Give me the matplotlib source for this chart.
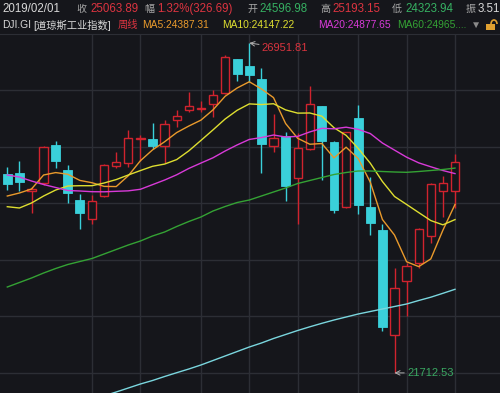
import numpy as np
import matplotlib
matplotlib.use('Agg')
import matplotlib.pyplot as plt
from matplotlib.patches import Rectangle, Arc

plt.rcParams['font.family'] = ['Liberation Sans', 'Noto Sans CJK SC', 'DejaVu Sans']

# DJI weekly candles, week ending 2018/05/18 ... 2019/02/01
opens = [24866.5, 24882.4, 24600.0, 24723.5, 25331.8, 24934.8, 24458.3, 24151.8, 24521.8, 25006.2,
         25041.2, 25427.1, 25427.1, 25323.8, 25728.8, 25887.6, 25906.7, 25987.7, 26152.8, 26692.8,
         26586.4, 26379.9, 25315.9, 25479.5, 24812.5, 25263.5, 25955.9, 25384.2, 24351.9, 25765.3,
         24351.9, 23974.0, 22314.4, 23172.0, 23462.6, 23878.7, 24606.0, 24596.98]
highs = [24987.2, 25082.5, 24660.0, 25320.0, 25400.1, 25009.4, 24553.6, 24537.7, 25030.0, 25220.6,
         25574.8, 25490.6, 25681.2, 25728.8, 25887.6, 26178.2, 26030.6, 26205.2, 26765.8, 26702.3,
         26951.81, 26549.9, 25819.3, 25543.0, 25517.6, 26273.5, 25959.0, 25395.0, 25546.0, 25967.0,
         24818.8, 24081.9, 23373.7, 23453.1, 24009.0, 24733.1, 24839.5, 25193.15]
lows = [24617.1, 24601.3, 24247.0, 24700.0, 24966.5, 24410.7, 23993.0, 24077.2, 24506.0, 24966.5,
        24982.4, 25077.7, 25268.3, 25045.9, 25617.6, 25860.6, 25855.9, 25776.4, 26141.7, 26351.3,
        26332.3, 24882.4, 25225.4, 24442.5, 24085.1, 25252.4, 24775.9, 24251.9, 24339.0, 24236.0,
        23894.6, 22382.7, 21712.53, 22616.1, 23378.4, 23783.4, 24193.1, 24323.94]
closes = [24707.7, 24748.9, 24630.0, 25304.8, 25077.7, 24574.3, 24259.8, 24447.2, 25014.2, 25061.8,
          25438.2, 25447.7, 25308.0, 25660.5, 25792.3, 25955.9, 25914.6, 26125.8, 26737.2, 26456.2,
          26448.2, 25342.9, 25438.2, 24680.7, 25279.4, 25978.1, 25400.1, 24294.8, 25533.5, 24378.9,
          24097.8, 22441.4, 23056.0, 23414.9, 23993.0, 24707.7, 24723.5, 25063.89]

ma5 = [24521.8, 24569.5, 24633.0, 24855.4, 24893.8, 24867.1, 24769.3, 24732.8, 24674.6, 24671.5,
       24844.2, 25081.8, 25254.0, 25383.2, 25529.3, 25632.9, 25726.3, 25889.8, 26105.2, 26237.9,
       26336.4, 26222.1, 26084.5, 25673.2, 25437.9, 25343.9, 25355.3, 25126.6, 25297.2, 25117.1,
       24741.0, 24149.3, 23901.5, 23477.8, 23400.6, 23522.6, 23979.0, 24387.31]
ma10 = [24351.9, 24331.3, 24410.7, 24521.8, 24617.1, 24680.7, 24685.4, 24685.4, 24728.3, 24782.7,
        24855.7, 24925.6, 24993.4, 25028.9, 25100.4, 25238.6, 25404.1, 25571.9, 25744.2, 25883.6,
        25984.7, 25974.2, 25987.2, 25889.2, 25837.9, 25840.2, 25788.7, 25605.6, 25485.2, 25277.5,
        25042.5, 24752.3, 24514.1, 24387.5, 24258.9, 24131.8, 24064.2, 24147.22]
ma20 = [24855.4, 24823.6, 24760.1, 24704.5, 24656.8, 24609.2, 24601.3, 24590.1, 24588.5, 24596.5,
        24603.8, 24628.5, 24702.0, 24775.4, 24858.8, 24959.7, 25044.8, 25128.7, 25236.3, 25333.2,
        25420.2, 25449.9, 25490.3, 25459.1, 25469.2, 25539.4, 25596.4, 25588.8, 25614.7, 25580.6,
        25513.6, 25363.3, 25250.7, 25138.4, 25048.4, 24986.0, 24926.5, 24877.65]
ma60 = [23076.7, 23148.1, 23219.6, 23299.0, 23370.5, 23434.0, 23481.6, 23529.3, 23600.8, 23672.2,
        23743.7, 23807.2, 23886.6, 23950.1, 24037.5, 24116.9, 24188.3, 24283.6, 24355.1, 24418.6,
        24458.3, 24521.8, 24585.4, 24648.9, 24720.4, 24768.0, 24815.6, 24863.3, 24895.1, 24918.9,
        24918.9, 24910.9, 24903.0, 24898.0, 24910.9, 24926.8, 24942.7, 24965.0]
# long average, only visible from the 9th week on
ma120_start = 8
ma120 = [21348.8, 21409.2, 21472.7, 21536.2, 21591.8, 21655.3, 21715.7, 21774.4, 21838.0, 21909.4,
         21980.9, 22052.4, 22123.8, 22187.3, 22258.8, 22322.3, 22385.9, 22444.6, 22500.2, 22552.6,
         22600.2, 22647.9, 22687.6, 22727.3, 22767.0, 22806.7, 22862.3, 22914.7, 22976.6, 23040.2]

# first week of each month (vertical grid)
month_lines = [7, 11, 16, 20, 24, 29, 33, 37]

BG = '#15161b'
GRID = '#2c2e35'
UP = '#d0232e'
DOWN = '#3ad0da'

W, H = 500, 393


def px(x, y):
    return x / W, 1 - y / H


def draw_candles(ax):
    x = np.arange(len(closes))
    o = np.array(opens)
    c = np.array(closes)
    hi = np.array(highs)
    lo = np.array(lows)
    up = c >= o
    top = np.maximum(o, c)
    bot = np.minimum(o, c)

    # down weeks: full wick + filled body
    ax.vlines(x[~up], lo[~up], hi[~up], color=DOWN, lw=1, zorder=2)
    ax.bar(x[~up], (top - bot)[~up], bottom=bot[~up], width=0.74, color=DOWN,
           edgecolor=DOWN, lw=0.6, zorder=3)

    # up weeks: hollow body, wick outside the body only
    ax.vlines(x[up], top[up], hi[up], color=UP, lw=1, zorder=2)
    ax.vlines(x[up], lo[up], bot[up], color=UP, lw=1, zorder=2)
    h = np.maximum((top - bot)[up], 8)
    ax.bar(x[up], h, bottom=bot[up], width=0.68, facecolor=BG,
           edgecolor=UP, lw=1, zorder=3)


fig = plt.figure(figsize=(W / 100, H / 100), dpi=100, facecolor=BG)
ax = fig.add_axes([0, 0, 1, (H - 34) / H], facecolor=BG)

n = len(closes)
step = 12.1  # px per week
xmin = -7.3 / step
ax.set_xlim(xmin, xmin + W / step)
ppx = 15.881  # points per pixel
ybot = 21712.53 - (393 - 372.9) * ppx
ytop = 21712.53 + (372.9 - 34) * ppx
ax.set_ylim(ybot, ytop)

# grid
for k in range(1, 7):
    ax.axhline(ytop - k * 56.43 * ppx, color=GRID, lw=1, zorder=0)
for m in month_lines:
    ax.axvline(m, color=GRID, lw=1, zorder=0)

draw_candles(ax)

xs = np.arange(n)
ax.plot(xs, ma5, color='#e99a2c', lw=1, zorder=4)
ax.plot(xs, ma10, color='#dede30', lw=1, zorder=4)
ax.plot(xs, ma20, color='#d83ad8', lw=1, zorder=4)
ax.plot(xs, ma60, color='#34a234', lw=1, zorder=4)
ax.plot(xs[ma120_start:], ma120, color='#7ad6de', lw=1, zorder=4)

# max / min marks
imax = int(np.argmax(highs))
imin = int(np.argmin(lows))
ax.annotate('%.2f' % highs[imax], xy=(imax, highs[imax]), xytext=(9, -3.8),
            textcoords='offset points', color='#d8343e', fontsize=8, va='center',
            arrowprops=dict(arrowstyle='->', color='#b0b0b0', lw=0.7,
                            shrinkA=0, shrinkB=0))
ax.annotate('%.2f' % lows[imin], xy=(imin, lows[imin]), xytext=(9, 0),
            textcoords='offset points', color='#3aa862', fontsize=8, va='center',
            arrowprops=dict(arrowstyle='->', color='#b0b0b0', lw=0.7,
                            shrinkA=0, shrinkB=0))

for s in ax.spines.values():
    s.set_visible(False)
ax.spines['top'].set_visible(True)
ax.spines['top'].set_color(GRID)
ax.set_xticks([])
ax.set_yticks([])

# header, row 1 (labels smaller than the numbers)
GRAY = '#a8a8a8'
RED = '#dc3440'
GREEN = '#36b062'
row1_labels = [(76, '收'), (144, '幅'), (248, '开'), (320, '高'), (392, '低'), (466, '振')]
row1_values = [(2, '2019/02/01', '#d8d8d8'), (90, '%.2f' % closes[-1], RED),
               (157, '1.32%(326.69)', RED), (259, '%.2f' % opens[-1], GREEN),
               (332, '%.2f' % highs[-1], RED), (405, '%.2f' % lows[-1], GREEN),
               (478, '3.51', '#d8d8d8')]
for x, s in row1_labels:
    fig.text(*px(x, 9), s, color=GRAY, fontsize=7.2, va='center', ha='left')
for x, s, col in row1_values:
    fig.text(*px(x, 9), s, color=col, fontsize=8.3, va='center', ha='left')

# header, row 2
row2 = [(2, 'DJI.GI', '#d8d8d8'), (33, '[道琼斯工业指数]', '#d8d8d8'), (118, '周线', RED),
        (142, 'MA5:%.2f' % ma5[-1], '#e99a2c'), (222, 'MA10:%.2f' % ma10[-1], '#dede30'),
        (318, 'MA20:%.2f' % ma20[-1], '#d83ad8'), (397, 'MA60:24965....', '#34a234'),
        (471, '▼', '#8a8a8a')]
for x, s, col in row2:
    fig.text(*px(x, 25), s, color=col, fontsize=7.4, va='center', ha='left')

# small lock icon
lx, ly = px(486, 30)
fig.patches.append(Rectangle((lx, ly), 9 / W, 6 / H, transform=fig.transFigure,
                             facecolor='#e0a030', edgecolor='none'))
ax_l = px(494, 24)
fig.patches.append(Arc(ax_l, 6 / W, 8 / H, theta1=0, theta2=180, transform=fig.transFigure,
                       color='#e0a030', lw=1.2))

fig.savefig('out.png', dpi=100, facecolor=BG)
